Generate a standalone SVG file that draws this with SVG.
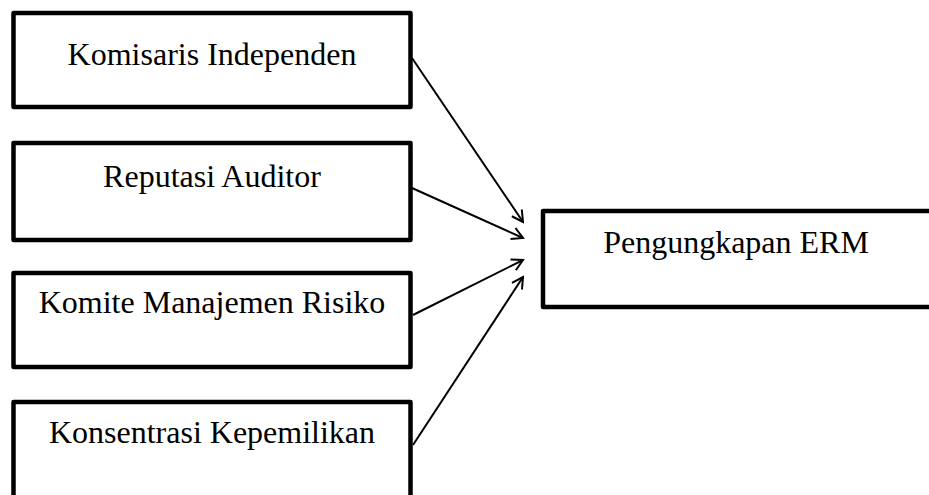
<svg xmlns="http://www.w3.org/2000/svg" width="929" height="495" viewBox="0 0 929 495">
<style>
.box{fill:#fff;stroke:#000;stroke-width:4.5;stroke-linejoin:round}
.t{font-family:"Liberation Serif","Times New Roman",serif;font-size:32px;fill:#000;text-anchor:middle}
.c{stroke:#000;stroke-width:2;fill:none}
</style>
<defs>
<marker id="ah" markerWidth="14" markerHeight="14" refX="12" refY="7" orient="auto" markerUnits="userSpaceOnUse">
<path d="M1,1 L12,7 L1,13" fill="none" stroke="#000" stroke-width="2"/>
</marker>
</defs>
<rect width="929" height="495" fill="#fff"/>
<g id="connectors">
<line class="c" x1="412" y1="58" x2="523" y2="222" marker-end="url(#ah)"/>
<line class="c" x1="412" y1="188" x2="523" y2="238" marker-end="url(#ah)"/>
<line class="c" x1="413" y1="315" x2="523" y2="260" marker-end="url(#ah)"/>
<line class="c" x1="413" y1="445" x2="523" y2="277" marker-end="url(#ah)"/>
</g>
<g id="n1"><rect class="box" x="13.5" y="13" width="397" height="94"/><text class="t" x="212" y="65">Komisaris Independen</text></g>
<g id="n2"><rect class="box" x="13.5" y="143" width="397" height="97"/><text class="t" x="212" y="187">Reputasi Auditor</text></g>
<g id="n3"><rect class="box" x="13.5" y="273" width="397" height="94"/><text class="t" x="212" y="313">Komite Manajemen Risiko</text></g>
<g id="n4"><rect class="box" x="13.5" y="402" width="397" height="110"/><text class="t" x="212" y="443">Konsentrasi Kepemilikan</text></g>
<g id="n5"><rect class="box" x="543" y="211" width="400" height="96"/><text class="t" x="736" y="253">Pengungkapan ERM</text></g>
</svg>
